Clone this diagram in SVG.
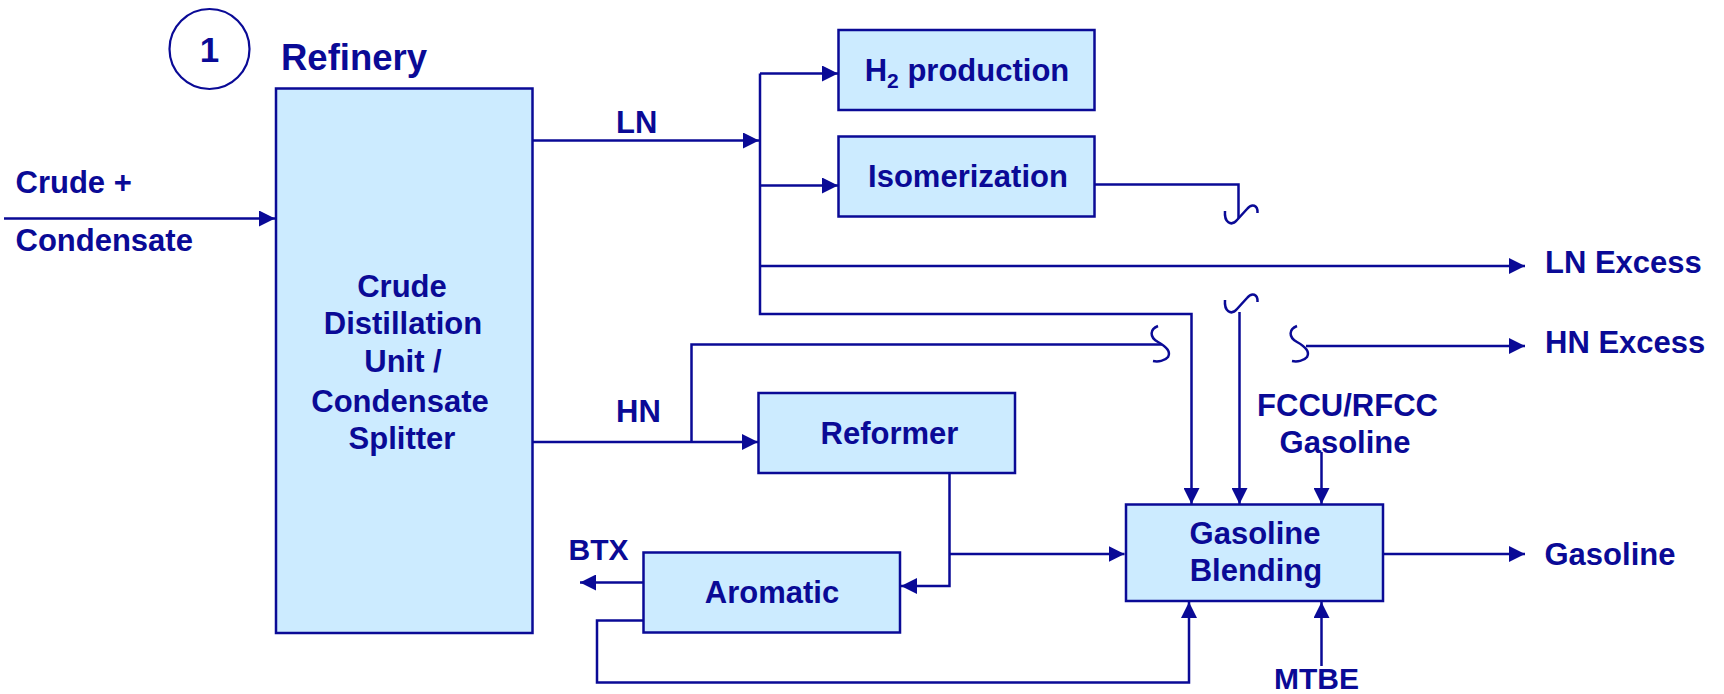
<svg xmlns="http://www.w3.org/2000/svg" width="1724" height="694" viewBox="0 0 1724 694">
<defs>
<style>
.box{fill:#CCEBFF;stroke:#0A0A96;stroke-width:2.5}
.ln{fill:none;stroke:#0A0A96;stroke-width:2.5}
.arr{marker-end:url(#ah)}
text{font-family:"Liberation Sans",Arial,sans-serif;font-weight:bold;font-size:31px;fill:#0A0A96}
.c{text-anchor:middle}
</style>
<marker id="ah" markerUnits="userSpaceOnUse" markerWidth="16" markerHeight="16" refX="16" refY="8" orient="auto" viewBox="0 0 16 16">
<path d="M0,0 L16,8 L0,16 z" fill="#0A0A96"/>
</marker>
</defs>
<rect width="1724" height="694" fill="#FFFFFF"/>

<g id="title">
<circle cx="209.5" cy="49" r="40" fill="none" stroke="#0A0A96" stroke-width="2.2"/>
<text x="209.5" y="62" class="c" style="font-size:35px">1</text>
<text x="281" y="70" style="font-size:36.5px">Refinery</text>
</g>

<g id="connectors">
<path class="ln arr" d="M4,218.5 H275"/>
<path class="ln arr" d="M533,140.5 H759"/>
<path class="ln arr" d="M760,73.5 V314 H1191.5 V504"/>
<path class="ln arr" d="M760,73.5 H838"/>
<path class="ln arr" d="M760,185.5 H838"/>
<path class="ln arr" d="M760,266 H1525"/>
<path class="ln" d="M1095,184.5 H1238.5 V218"/>
<path class="ln" d="M1225,211 C1224,222 1231,227 1237,220 L1247,209 C1252,203 1258,205 1257.5,213"/>
<path class="ln" d="M1225,300 C1224,311 1231,316 1237,309 L1247,298 C1252,292 1258,294 1257.5,302"/>
<path class="ln arr" d="M1239.5,312 V504"/>
<path class="ln" d="M691.5,442 V344.5 H1162"/>
<path class="ln" d="M1158,326 C1150,329 1149,337 1158,342 C1167,347 1171,352 1168,357 C1165,361 1158,362 1153,361"/>
<path class="ln" d="M1297,326 C1289,329 1288,337 1297,342 C1306,347 1310,352 1307,357 C1304,361 1297,362 1292,361"/>
<path class="ln arr" d="M1306,346 H1525"/>
<path class="ln arr" d="M533,442 H758"/>
<path class="ln arr" d="M949.5,473 V586 H901"/>
<path class="ln arr" d="M949.5,554 H1124.5"/>
<path class="ln arr" d="M643,582.5 H580"/>
<path class="ln arr" d="M646,620.5 H597 V682.5 H1189 V602"/>
<path class="ln arr" d="M1321.5,452 V504"/>
<path class="ln arr" d="M1321.5,666 V602"/>
<path class="ln arr" d="M1383,554 H1525"/>
</g>

<g id="cdu">
<rect class="box" x="276" y="88.5" width="256.5" height="544.5"/>
<text x="402" y="296.5" class="c">Crude</text>
<text x="403" y="333.5" class="c">Distillation</text>
<text x="403" y="371.5" class="c">Unit /</text>
<text x="400" y="411.5" class="c">Condensate</text>
<text x="402" y="448.5" class="c">Splitter</text>
</g>

<g id="h2">
<rect class="box" x="838.5" y="30" width="256" height="80"/>
<text x="967" y="81" class="c">H<tspan style="font-size:21px" dy="7">2</tspan><tspan dy="-7"> production</tspan></text>
</g>

<g id="isomerization">
<rect class="box" x="838.5" y="136.5" width="256" height="80"/>
<text x="968" y="186.5" class="c">Isomerization</text>
</g>

<g id="reformer">
<rect class="box" x="758.5" y="393" width="256.5" height="80"/>
<text x="889.5" y="444" class="c">Reformer</text>
</g>

<g id="aromatic">
<rect class="box" x="643.5" y="552.5" width="256.5" height="80"/>
<text x="772" y="603.3" class="c">Aromatic</text>
</g>

<g id="blending">
<rect class="box" x="1126" y="504.5" width="257" height="96.5"/>
<text x="1255" y="544.3" class="c">Gasoline</text>
<text x="1256" y="580.7" class="c">Blending</text>
</g>

<g id="labels">
<text x="15.5" y="193">Crude +</text>
<text x="15.5" y="250.7">Condensate</text>
<text x="616" y="133">LN</text>
<text x="616" y="421.7">HN</text>
<text x="568.5" y="560" style="font-size:30px">BTX</text>
<text x="1545" y="273">LN Excess</text>
<text x="1545" y="353">HN Excess</text>
<text x="1347.5" y="416" class="c">FCCU/RFCC</text>
<text x="1345" y="453.3" class="c">Gasoline</text>
<text x="1544.5" y="565">Gasoline</text>
<text x="1316.5" y="689" class="c" style="font-size:30px">MTBE</text>
</g>
</svg>
